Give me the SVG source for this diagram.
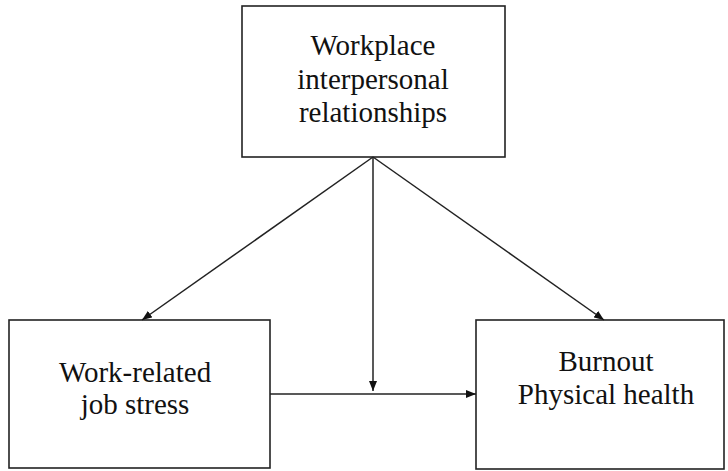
<svg xmlns="http://www.w3.org/2000/svg" width="728" height="471" viewBox="0 0 728 471">
  <style>
    .box { fill: #fff; stroke: #222; stroke-width: 1.6; }
    .lbl { font-family: "Liberation Serif", "Times New Roman", serif; font-size: 29px; fill: #111; text-anchor: middle; }
    .edge { stroke: #222; stroke-width: 1.5; fill: none; marker-end: url(#head); }
  </style>
  <defs>
    <marker id="head" viewBox="0 0 10 8" refX="10" refY="4" markerWidth="10" markerHeight="8" markerUnits="userSpaceOnUse" orient="auto">
      <path d="M0,0 L10,4 L0,8 Z" fill="#111"/>
    </marker>
  </defs>
  <rect width="728" height="471" fill="#fff"/>

  <g id="relationships">
    <rect class="box" x="242" y="6" width="263" height="151"/>
    <text class="lbl" x="373" y="55">Workplace</text>
    <text class="lbl" x="373" y="89">interpersonal</text>
    <text class="lbl" x="373" y="122">relationships</text>
  </g>

  <g id="stress">
    <rect class="box" x="9" y="320" width="261" height="148"/>
    <text class="lbl" x="135" y="382">Work-related</text>
    <text class="lbl" x="135" y="414">job stress</text>
  </g>

  <g id="outcomes">
    <rect class="box" x="476" y="320" width="248" height="149"/>
    <text class="lbl" x="606" y="371">Burnout</text>
    <text class="lbl" x="606" y="404">Physical health</text>
  </g>

  <g id="connectors">
    <line class="edge" x1="373" y1="157" x2="142" y2="320"/>
    <line class="edge" x1="373" y1="157" x2="604" y2="320"/>
    <line class="edge" x1="373" y1="157" x2="373" y2="391"/>
    <line class="edge" x1="270" y1="394" x2="476" y2="394"/>
  </g>
</svg>
